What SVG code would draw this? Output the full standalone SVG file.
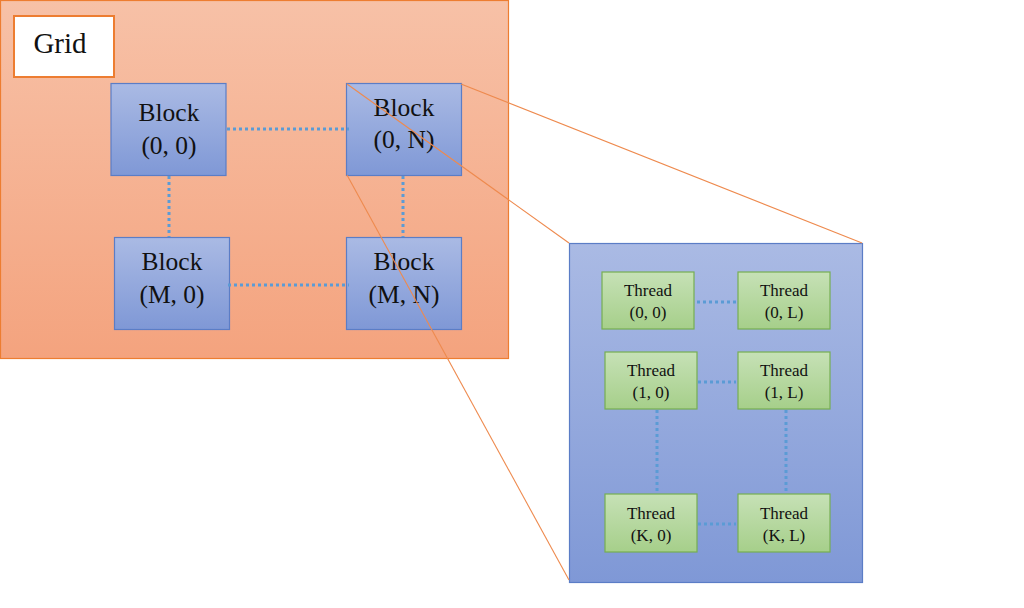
<svg xmlns="http://www.w3.org/2000/svg" width="1024" height="608" viewBox="0 0 1024 608">
<defs>
<linearGradient id="gOrange" x1="0" y1="0" x2="0" y2="1"><stop offset="0" stop-color="#F7C1A7"/><stop offset="1" stop-color="#F4A37E"/></linearGradient>
<linearGradient id="gBlue" x1="0" y1="0" x2="0" y2="1"><stop offset="0" stop-color="#AABAE4"/><stop offset="1" stop-color="#7F98D6"/></linearGradient>
<linearGradient id="gGreen" x1="0" y1="0" x2="0" y2="1"><stop offset="0" stop-color="#C6E1B6"/><stop offset="1" stop-color="#A6CF8A"/></linearGradient>
</defs>
<style>
.blk{fill:url(#gBlue);stroke:#5B7DC6;stroke-width:1.2}
.thr{fill:url(#gGreen);stroke:#76AE52;stroke-width:1.2}
.dot{stroke:#5B9BD5;stroke-width:3;stroke-dasharray:3 3;fill:none}
.zoom{stroke:#EE8A4E;stroke-width:1.1;fill:none}
.bt{font-family:"Liberation Serif",serif;font-size:25.5px;fill:#111;text-anchor:middle}
.tt{font-family:"Liberation Serif",serif;font-size:17px;fill:#111;text-anchor:middle}
</style>
<rect width="1024" height="608" fill="#fff"/>
<g id="grid">
<rect x="0.5" y="0.5" width="508" height="358" fill="url(#gOrange)" stroke="#ED7D31" stroke-width="1.2"/>
<rect x="14" y="16" width="100" height="61" fill="#fff" stroke="#ED7D31" stroke-width="2"/>
<text x="60" y="53" font-family="Liberation Serif,serif" font-size="29" fill="#111" text-anchor="middle">Grid</text>
</g>
<g id="block-0-0"><rect class="blk" x="111" y="83.5" width="115" height="92"/><text class="bt" x="169" y="121">Block</text><text class="bt" x="169" y="154">(0, 0)</text></g>
<g id="block-0-N"><rect class="blk" x="346.5" y="83.5" width="115" height="92"/><text class="bt" x="404" y="116">Block</text><text class="bt" x="404" y="148">(0, N)</text></g>
<g id="block-M-0"><rect class="blk" x="114.5" y="237.5" width="115" height="92"/><text class="bt" x="172" y="270">Block</text><text class="bt" x="172" y="303">(M, 0)</text></g>
<g id="block-M-N"><rect class="blk" x="346.5" y="237.5" width="115" height="92"/><text class="bt" x="404" y="270">Block</text><text class="bt" x="404" y="303">(M, N)</text></g>
<g id="thread-panel"><rect x="569.5" y="243.5" width="293" height="339" fill="url(#gBlue)" stroke="#5B7DC6" stroke-width="1.2"/></g>
<g id="thread-0-0"><rect class="thr" x="602" y="272" width="92" height="57"/><text class="tt" x="648" y="296">Thread</text><text class="tt" x="648" y="318">(0, 0)</text></g>
<g id="thread-0-L"><rect class="thr" x="738" y="272" width="92" height="57"/><text class="tt" x="784" y="296">Thread</text><text class="tt" x="784" y="318">(0, L)</text></g>
<g id="thread-1-0"><rect class="thr" x="605" y="352" width="92" height="57"/><text class="tt" x="651" y="376">Thread</text><text class="tt" x="651" y="398">(1, 0)</text></g>
<g id="thread-1-L"><rect class="thr" x="738" y="352" width="92" height="57"/><text class="tt" x="784" y="376">Thread</text><text class="tt" x="784" y="398">(1, L)</text></g>
<g id="thread-K-0"><rect class="thr" x="605" y="494" width="92" height="58"/><text class="tt" x="651" y="519">Thread</text><text class="tt" x="651" y="541">(K, 0)</text></g>
<g id="thread-K-L"><rect class="thr" x="738" y="494" width="92" height="58"/><text class="tt" x="784" y="519">Thread</text><text class="tt" x="784" y="541">(K, L)</text></g>
<g id="connectors">
<line class="dot" x1="227" y1="129" x2="349" y2="129"/>
<line class="dot" x1="169" y1="176" x2="169" y2="237"/>
<line class="dot" x1="403" y1="176" x2="403" y2="237"/>
<line class="dot" x1="228" y1="285" x2="349" y2="285"/>
<line class="dot" x1="697" y1="302" x2="736" y2="302"/>
<line class="dot" x1="698" y1="382" x2="736" y2="382"/>
<line class="dot" x1="657" y1="410" x2="657" y2="494"/>
<line class="dot" x1="786" y1="410" x2="786" y2="494"/>
<line class="dot" x1="698" y1="524" x2="736" y2="524"/>
<line class="zoom" x1="347" y1="84" x2="569" y2="243"/>
<line class="zoom" x1="461" y1="84" x2="862" y2="243"/>
<line class="zoom" x1="347" y1="175" x2="569" y2="580"/>
</g>
</svg>
